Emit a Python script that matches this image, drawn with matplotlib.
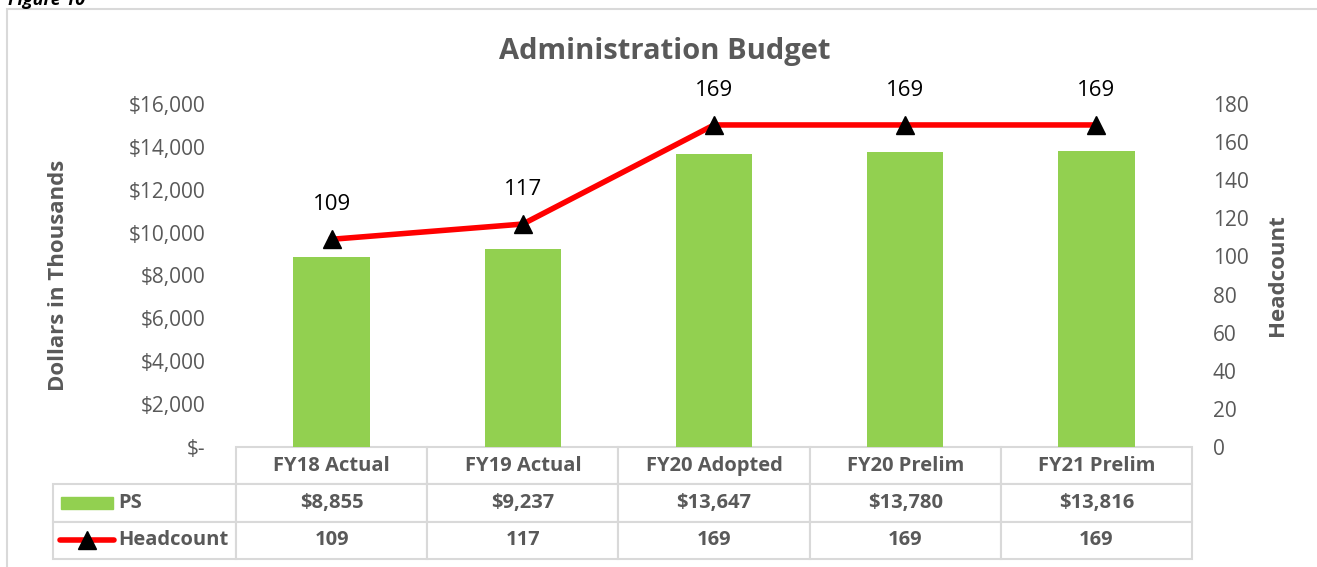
import matplotlib.pyplot as plt
from matplotlib.patches import Rectangle
from matplotlib.lines import Line2D

plt.rcParams['font.family'] = ['Open Sans', 'DejaVu Sans']

categories = ['FY18 Actual', 'FY19 Actual', 'FY20 Adopted', 'FY20 Prelim', 'FY21 Prelim']
ps = [8855, 9237, 13647, 13780, 13816]
headcount = [109, 117, 169, 169, 169]
left_ticks = [0, 2000, 4000, 6000, 8000, 10000, 12000, 14000, 16000]
right_ticks = [0, 20, 40, 60, 80, 100, 120, 140, 160, 180]

grey = '#595959'
green = '#92D050'
edge = '#D9D9D9'

fig = plt.figure(figsize=(13.17, 5.67), dpi=100)
fx = lambda px: px / 1317
fy = lambda py: (567 - py) / 567

# outer frame of the chart object, cut off at right and bottom
fig.patches.append(Rectangle((fx(7), -0.05), 1.1, fy(9) + 0.05,
                             transform=fig.transFigure, fill=False,
                             edgecolor=edge, linewidth=1.5))
fig.text(fx(8), 1.0, 'Figure 10', fontsize=13, fontweight='bold',
         fontstyle='italic', color='black', va='center', ha='left')

ax = fig.add_axes([fx(236), fy(447), 956 / 1317, 343 / 567])
x = list(range(len(categories)))
ax.bar(x, ps, width=0.4, color=green, zorder=2)
ax.set_xlim(-0.5, len(categories) - 0.5)
ax.set_ylim(0, 16000)
ax.set_yticks(left_ticks)
ax.set_yticklabels(['$-'] + ['${:,}'.format(v) for v in left_ticks[1:]])
ax.set_xticks([])
for s in ax.spines.values():
    s.set_visible(False)
ax.tick_params(axis='y', length=0, labelsize=15, labelcolor=grey, pad=22)
ax.set_ylabel('Dollars in Thousands', fontsize=16, fontweight='bold',
              color=grey)
ax.yaxis.set_label_coords(-0.175, 0.5)

ax2 = ax.twinx()
ax2.plot(x, headcount, color='#FF0000', linewidth=4, marker='^',
         markersize=13, markerfacecolor='black', markeredgecolor='black',
         zorder=3)
ax2.set_ylim(0, 180)
ax2.set_yticks(right_ticks)
for s in ax2.spines.values():
    s.set_visible(False)
ax2.tick_params(axis='y', length=0, labelsize=15, labelcolor=grey, pad=15)
ax2.set_ylabel('Headcount', fontsize=16, fontweight='bold', color=grey)
ax2.yaxis.set_label_coords(1.078, 0.5)
for xi, h in zip(x, headcount):
    ax2.annotate(str(h), (xi, h), xytext=(0, 25), textcoords='offset points',
                 ha='center', va='center', fontsize=16, color='black',
                 clip_on=False)

fig.text(fx(665), fy(51), 'Administration Budget',
         fontsize=21, fontweight='bold', color=grey, ha='center', va='center')

# data table; first column holds the legend keys
cell_text = [[''] + ['${:,}'.format(v) for v in ps],
             [''] + [str(v) for v in headcount]]
tbl = ax.table(cellText=cell_text, colLabels=[''] + categories,
               colWidths=[183 / 191] + [1] * len(categories), cellLoc='center',
               bbox=[-183 / 956, -112 / 343, 1139 / 956, 112 / 343])
tbl.auto_set_font_size(False)
for (r, c), cell in tbl.get_celld().items():
    cell.set_edgecolor(edge)
    cell.set_linewidth(1.5)
    cell.get_text().set_fontsize(14.5)
    cell.get_text().set_fontweight('bold')
    cell.get_text().set_color(grey)
tbl[0, 0].set_visible(False)

fig.patches.append(Rectangle((fx(61), fy(509)), fx(52), 12 / 567,
                             transform=fig.transFigure, color=green))
fig.text(fx(118), fy(503), 'PS', fontsize=14.5, fontweight='bold', color=grey,
         va='center', ha='left')
fig.lines.append(Line2D([fx(60), fx(114)], [fy(540), fy(540)],
                        transform=fig.transFigure, color='#FF0000',
                        linewidth=4, solid_capstyle='round'))
fig.lines.append(Line2D([fx(87)], [fy(540)], transform=fig.transFigure,
                        marker='^', markersize=13, color='black'))
fig.text(fx(118), fy(540), 'Headcount', fontsize=14.5, fontweight='bold',
         color=grey, va='center', ha='left')

fig.savefig('out.png', dpi=100)
